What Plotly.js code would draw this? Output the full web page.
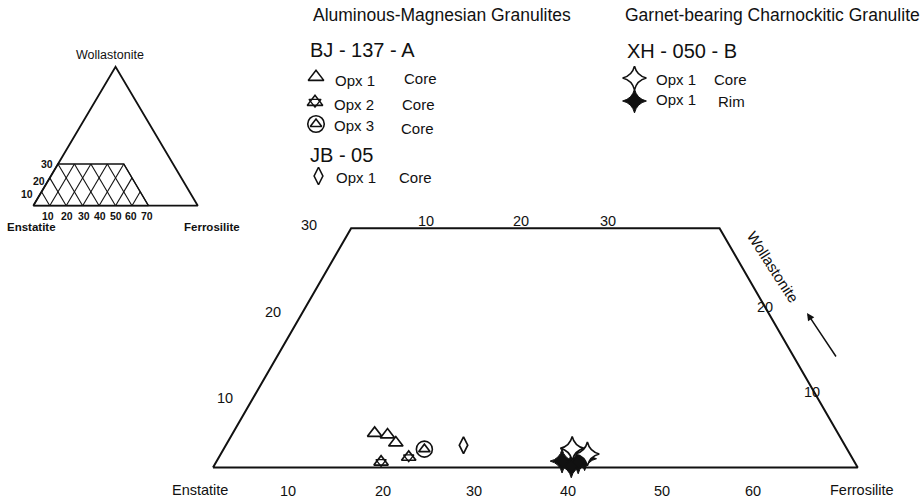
<!DOCTYPE html>
<html><head><meta charset="utf-8">
<script src="https://cdn.plot.ly/plotly-3.0.1.min.js"></script>
<style>html,body{margin:0;padding:0;background:#fff}#chart{width:922px;height:502px}</style>
</head><body><div id="chart"></div>
<script>
// ---- Data: pyroxene compositions (mol %, Fs and Wo; En = 100 - Fs - Wo) ----
const bj137Opx1CoreFs = [15.4, 16.9, 18.3];
const bj137Opx1CoreWo = [4.3, 4.1, 3.1];
const bj137Opx2CoreFs = [17.9, 20.6];
const bj137Opx2CoreWo = [0.7, 1.3];
const bj137Opx3CoreFs = [21.8];
const bj137Opx3CoreWo = [2.3];
const jb05Opx1CoreFs = [25.8];
const jb05Opx1CoreWo = [2.8];
const xh050Opx1CoreFs = [37.8, 39.8];
const xh050Opx1CoreWo = [2.4, 1.7];
const xh050Opx1RimFs = [37.5, 38.8, 39.3, 39.8];
const xh050Opx1RimWo = [0.8, 0.2, 0.7, 1.1];

// quadrilateral field (Wo <= 30, Fs 0..70) and full triangle
const quadFs = [0, 0, 40, 70, 0];
const quadWo = [0, 30, 30, 0, 0];
const triFs = [0, 0, 100, 0];
const triWo = [0, 100, 0, 0];
const gridFsValues = [10, 20, 30, 40, 50, 60];
const gridEnValues = [30, 40, 50, 60, 70, 80, 90];

// tick labels
const mainBottomLabels = ['10', '20', '30', '40', '50', '60'];
const mainLeftLabels = ['10', '20', '30'];
const mainTopLabels = ['10', '20', '30'];
const mainRightLabels = ['20', '10'];
const insetBottomLabels = ['10', '20', '30', '40', '50', '60', '70'];
const insetLeftLabels = ['30', '20', '10'];

// ---- ternary -> cartesian ----
const S3 = Math.sqrt(3) / 2;
const tx = (fs, wo) => fs.map((f, i) => f + wo[i] / 2);
const ty = (wo) => wo.map(w => w * S3);

// ---- axis calibrations (layout only) ----
const W = 922, H = 502;
function xr(origin, s) { return [-origin / s, (W - origin) / s]; }
function yr(origin, s) { return [(origin - H) / s, origin / s]; }
const mainX = xr(213, 9.21), mainY = yr(467.5, 9.21);
const insX = xr(33.3, 1.645), insY = yr(205.7, 1.605);

// inset grid lines
const gx = [], gy = [];
gridFsValues.forEach(f => {
  const wTop = Math.min(30, 70 - f);
  gx.push(f, f + wTop / 2, null); gy.push(0, wTop * S3, null);
});
gridEnValues.forEach(e => {
  const s = 100 - e; const wTop = Math.min(30, s);
  gx.push(s, (s - wTop) + wTop / 2, null); gy.push(0, wTop * S3, null);
});

const K = '#111';
const ml = (w) => ({color: K, width: w});
const traces = [
  // inset
  {x: tx(triFs, triWo), y: ty(triWo), xaxis: 'x2', yaxis: 'y2', mode: 'lines', line: {color: K, width: 1.8}},
  {x: gx, y: gy, xaxis: 'x2', yaxis: 'y2', mode: 'lines', line: {color: K, width: 1.1}},
  {x: tx(quadFs, quadWo), y: ty(quadWo), xaxis: 'x2', yaxis: 'y2', mode: 'lines', line: {color: K, width: 1.3}},
  // main
  {x: tx(quadFs, quadWo), y: ty(quadWo), mode: 'lines', line: {color: K, width: 2}},
  {x: tx(bj137Opx1CoreFs, bj137Opx1CoreWo), y: ty(bj137Opx1CoreWo), mode: 'markers',
   marker: {symbol: 'triangle-up', size: 12.5, color: '#fff', line: ml(1.7)}},
  {x: tx(bj137Opx2CoreFs, bj137Opx2CoreWo), y: ty(bj137Opx2CoreWo), mode: 'markers',
   marker: {symbol: 'triangle-down-open', size: 9, color: K, line: ml(1.3)}},
  {x: tx(bj137Opx2CoreFs, bj137Opx2CoreWo), y: ty(bj137Opx2CoreWo), mode: 'markers',
   marker: {symbol: 'triangle-up-open', size: 12.5, color: K, line: ml(1.7)}},
  {x: tx(bj137Opx3CoreFs, bj137Opx3CoreWo), y: ty(bj137Opx3CoreWo), mode: 'markers',
   marker: {symbol: 'circle-open', size: 16, color: K, line: ml(1.6)}},
  {x: tx(bj137Opx3CoreFs, bj137Opx3CoreWo), y: ty(bj137Opx3CoreWo), mode: 'markers',
   marker: {symbol: 'triangle-up-open', size: 10, color: K, line: ml(1.6)}},
  {x: tx(jb05Opx1CoreFs, jb05Opx1CoreWo), y: ty(jb05Opx1CoreWo), mode: 'markers',
   marker: {symbol: 'diamond-tall-open', size: 12, color: K, line: ml(1.7)}},
  {x: tx(xh050Opx1RimFs, xh050Opx1RimWo), y: ty(xh050Opx1RimWo), mode: 'markers',
   marker: {symbol: 'star-diamond', size: 17, color: K, line: ml(1)}},
  {x: tx(xh050Opx1RimFs, xh050Opx1RimWo), y: ty(xh050Opx1RimWo), mode: 'markers',
   marker: {symbol: 'diamond', size: 9, color: K, line: ml(0)}},
  {x: tx(xh050Opx1CoreFs, xh050Opx1CoreWo), y: ty(xh050Opx1CoreWo), mode: 'markers',
   marker: {symbol: 'star-diamond', size: 17, color: '#fff', line: ml(1.6)}},
  // legend symbols (pixel-space axis)
  {x: [316], y: [77], xaxis: 'x3', yaxis: 'y3', mode: 'markers', marker: {symbol: 'triangle-up-open', size: 13.5, color: K, line: ml(1.6)}},
  {x: [315], y: [102], xaxis: 'x3', yaxis: 'y3', mode: 'markers', marker: {symbol: 'triangle-down-open', size: 10.5, color: K, line: ml(1.3)}},
  {x: [315], y: [102], xaxis: 'x3', yaxis: 'y3', mode: 'markers', marker: {symbol: 'triangle-up-open', size: 13.5, color: K, line: ml(1.6)}},
  {x: [316], y: [124], xaxis: 'x3', yaxis: 'y3', mode: 'markers', marker: {symbol: 'circle-open', size: 16.5, color: K, line: ml(1.6)}},
  {x: [316], y: [124], xaxis: 'x3', yaxis: 'y3', mode: 'markers', marker: {symbol: 'triangle-up-open', size: 10, color: K, line: ml(1.6)}},
  {x: [318.5], y: [176], xaxis: 'x3', yaxis: 'y3', mode: 'markers', marker: {symbol: 'diamond-tall-open', size: 12.5, color: K, line: ml(1.6)}},
  {x: [634.5], y: [78], xaxis: 'x3', yaxis: 'y3', mode: 'markers', marker: {symbol: 'star-diamond', size: 17, color: '#fff', line: ml(1.6)}},
  {x: [634.5], y: [101], xaxis: 'x3', yaxis: 'y3', mode: 'markers', marker: {symbol: 'star-diamond', size: 17, color: K, line: ml(1)}},
  {x: [634.5], y: [101], xaxis: 'x3', yaxis: 'y3', mode: 'markers', marker: {symbol: 'diamond', size: 9, color: K, line: ml(0)}}
];
traces.forEach(t => { t.hoverinfo = 'skip'; t.showlegend = false; t.cliponaxis = false; });

const FF = 'Liberation Sans, Arial, Helvetica, sans-serif';
const ann = [];
function T(text, x, y, size, opts) {
  ann.push(Object.assign({text: text, x: x, y: y, xref: 'x3', yref: 'y3', showarrow: false,
    xanchor: 'center', yanchor: 'middle', font: {family: FF, size: size, color: K}}, opts || {}));
}
// headers & legend text
T('Aluminous-Magnesian Granulites', 442, 15, 17.5);
T('Garnet-bearing Charnockitic Granulite', 623, 15, 17.5, {xanchor: 'left'});
T('BJ - 137 - A', 308, 50, 20, {xanchor: 'left'});
T('JB - 05', 308, 155, 20, {xanchor: 'left'});
T('XH - 050 - B', 625, 51, 20, {xanchor: 'left'});
T('Opx 1', 333, 80, 15, {xanchor: 'left'}); T('Core', 402, 78, 15, {xanchor: 'left'});
T('Opx 2', 332, 104, 15, {xanchor: 'left'}); T('Core', 400, 104, 15, {xanchor: 'left'});
T('Opx 3', 332, 125, 15, {xanchor: 'left'}); T('Core', 399, 128, 15, {xanchor: 'left'});
T('Opx 1', 334, 177, 15, {xanchor: 'left'}); T('Core', 397, 177, 15, {xanchor: 'left'});
T('Opx 1', 654, 79, 15, {xanchor: 'left'}); T('Core', 712, 79, 15, {xanchor: 'left'});
T('Opx 1', 654, 99, 15, {xanchor: 'left'}); T('Rim', 716, 101, 15, {xanchor: 'left'});
// main diagram labels
T('Enstatite', 200, 490, 14.5);
T('Ferrosilite', 862, 490, 14.5);
[288, 383, 474, 568, 662, 753].forEach((x, i) => T(mainBottomLabels[i], x, 491, 14.5));
[[225, 398], [273, 312], [309, 225]].forEach((p, i) => T(mainLeftLabels[i], p[0], p[1], 14.5));
[426, 521, 608].forEach((x, i) => T(mainTopLabels[i], x, 221, 14.5));
[[765, 307], [812, 392]].forEach((p, i) => T(mainRightLabels[i], p[0], p[1], 14.5));
T('Wollastonite', 773, 266, 15, {textangle: 57});
ann.push({x: 807, y: 313, ax: 837, ay: 358, xref: 'x3', yref: 'y3', axref: 'x3', ayref: 'y3', text: '',
  showarrow: true, arrowhead: 2, arrowsize: 1, arrowwidth: 1.5, arrowcolor: K});
// inset labels
T('Wollastonite', 110, 55, 12.5);
T('<b>Enstatite</b>', 31, 227, 11.5);
T('<b>Ferrosilite</b>', 212, 227, 11.5);
[[47, 164], [39, 181], [27, 194]].forEach((p, i) => T('<b>' + insetLeftLabels[i] + '</b>', p[0], p[1], 10.5));
[48, 67, 84, 100, 116, 131, 147].forEach((x, i) => T('<b>' + insetBottomLabels[i] + '</b>', x, 216, 10.5));

const ax = (r, extra) => Object.assign({range: r, visible: false, fixedrange: true}, extra || {});
const layout = {
  width: W, height: H, margin: {l: 0, r: 0, t: 0, b: 0},
  paper_bgcolor: '#fff', plot_bgcolor: 'rgba(0,0,0,0)', showlegend: false,
  xaxis: ax(mainX), yaxis: ax(mainY),
  xaxis2: ax(insX, {anchor: 'y2'}), yaxis2: ax(insY, {anchor: 'x2'}),
  xaxis3: ax([0, W], {anchor: 'y3'}), yaxis3: ax([H, 0], {anchor: 'x3'}),
  annotations: ann
};
Plotly.newPlot('chart', traces, layout, {staticPlot: true, displayModeBar: false});
</script></body></html>
